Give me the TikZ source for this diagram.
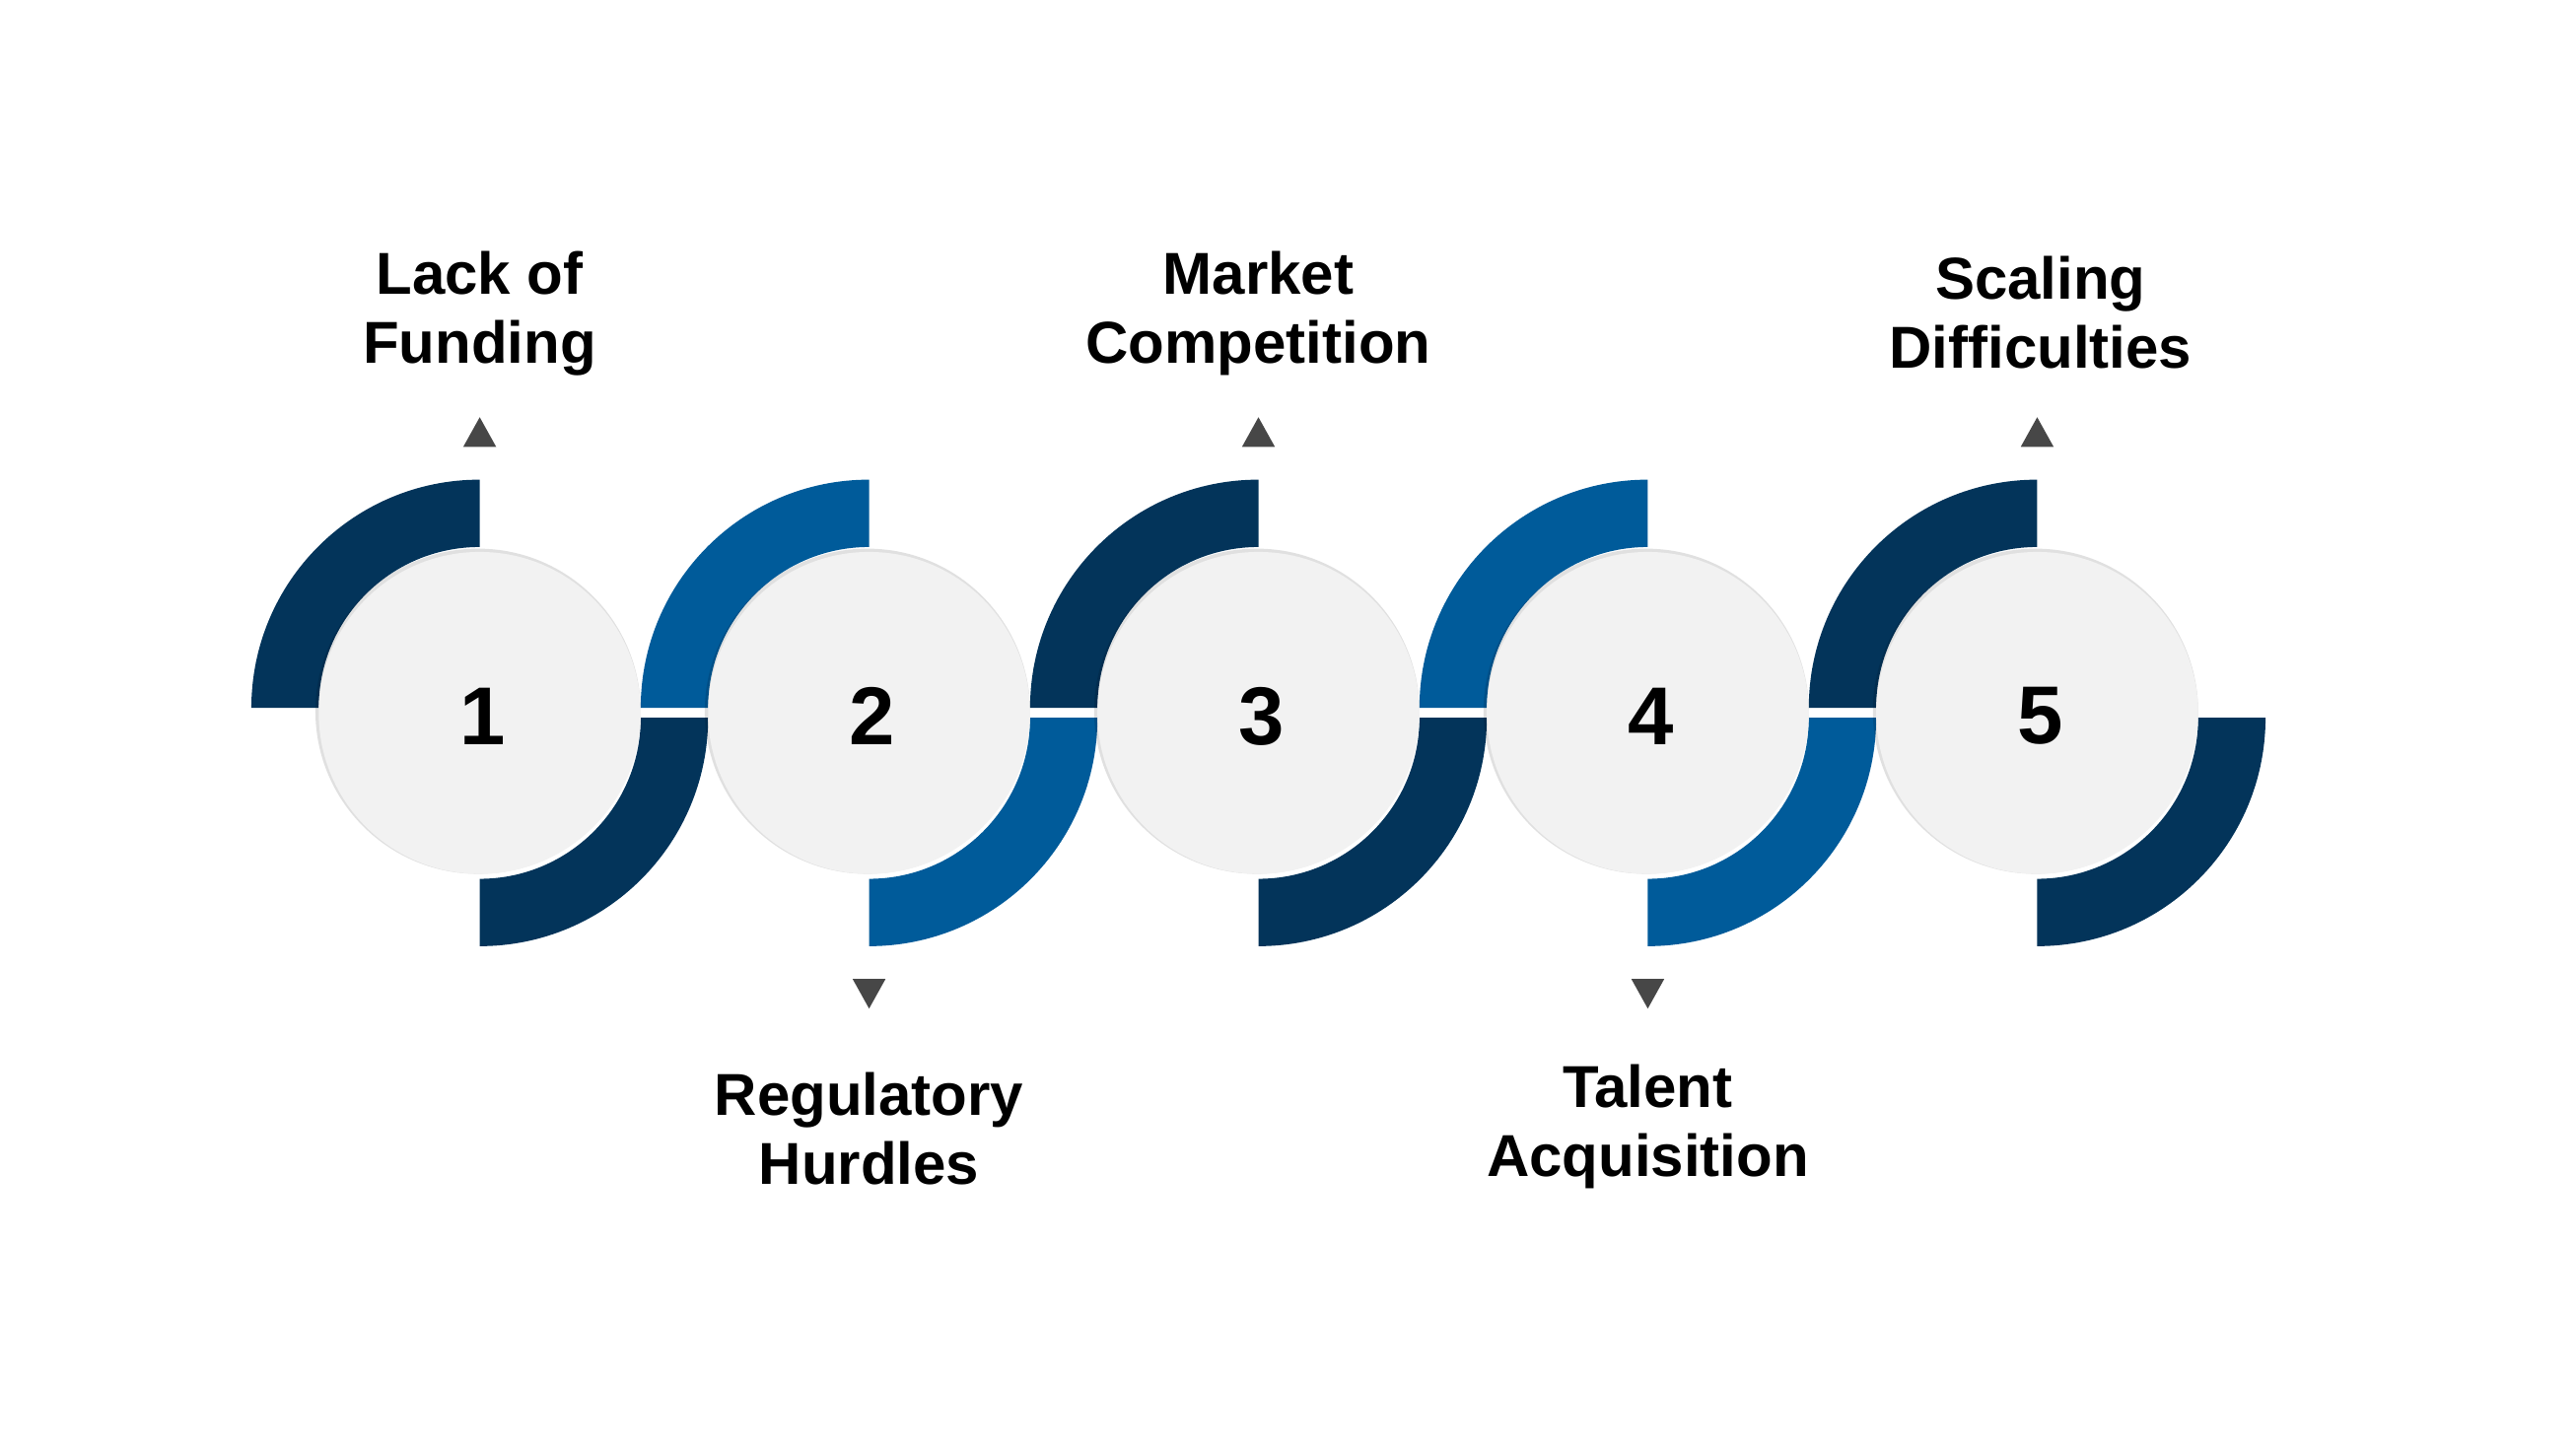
\documentclass[tikz,border=0pt]{standalone}
\usepackage{fontspec}
\setmainfont{Liberation Sans}
\begin{document}
\begin{tikzpicture}[x=1pt,y=-1pt,
  lbl/.style={font=\fontsize{36}{42}\selectfont\bfseries,align=center,text=black},
  num/.style={font=\fontsize{50}{50}\selectfont\bfseries,text=black},
  tri/.style={fill=black!72,draw=none}]
\definecolor{dk}{HTML}{03345A}
\definecolor{bl}{HTML}{005B9A}
\definecolor{cg}{HTML}{F2F2F2}
\useasboundingbox (0,0) rectangle (1568,882);
\def\ri{98}\def\ro{139}
\foreach \i/\cx/\col in {1/292/dk,2/529/bl,3/766/dk,4/1003/bl,5/1240/dk}{
  \fill[\col] (\cx-\ro,431) arc[start angle=180,end angle=270,radius=\ro] -- (\cx,431-\ri) arc[start angle=270,end angle=180,radius=\ri] -- cycle;
  \fill[\col] (\cx+\ro,437) arc[start angle=0,end angle=90,radius=\ro] -- (\cx,437+\ri) arc[start angle=90,end angle=0,radius=\ri] -- cycle;
  \fill[black,opacity=0.12] (\cx-1,433) circle (99);
  \node[circle,fill=cg,minimum size=196pt,inner sep=0pt] (c\i) at (\cx,434) {};
  \node[num] (n\i) at (\cx+2,436) {\i};
}
\foreach \i/\cx in {1/292,3/766,5/1240}{
  \fill[tri] (\cx-10,272) -- (\cx+10,272) -- (\cx,254) -- cycle;}
\foreach \i/\cx in {2/529,4/1003}{
  \fill[tri] (\cx-10,596) -- (\cx+10,596) -- (\cx,614) -- cycle;}
\node[lbl] (l1) at (292,191) {Lack of\\Funding};
\node[lbl] (l2) at (529,687) {Regulatory\\Hurdles};
\node[lbl] (l3) at (766,191) {Market\\Competition};
\node[lbl] (l4) at (1003,686) {Talent\\Acquisition};
\node[lbl] (l5) at (1242,190) {Scaling\\Difficulties};
\end{tikzpicture}
\end{document}
